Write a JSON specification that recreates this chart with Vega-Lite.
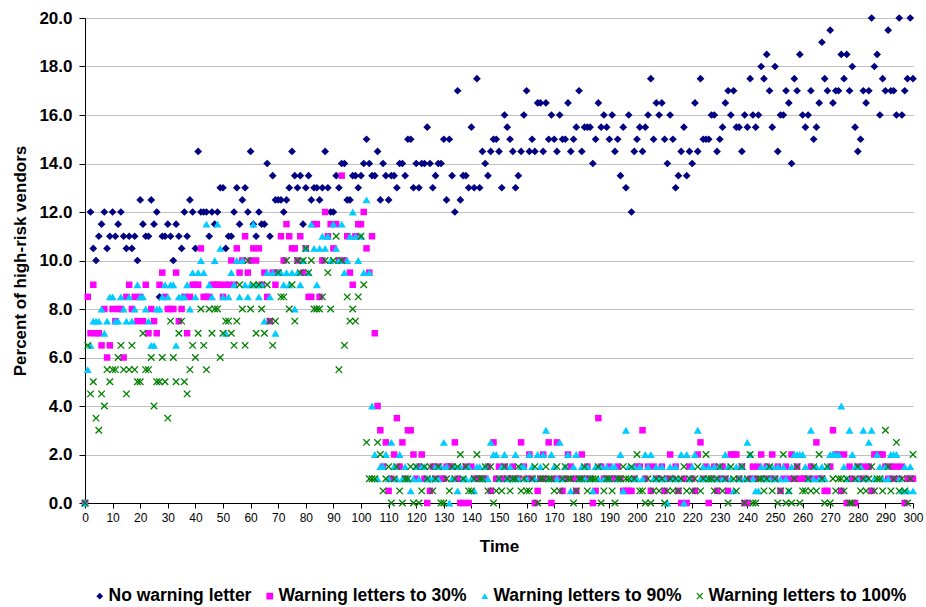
{
"$schema":"https://vega.github.io/schema/vega-lite/v6.json",
"width":828,"height":485,
"autosize":{"type":"none"},
"padding":{"left":85,"top":18,"right":13,"bottom":104},
"background":"white",
"config":{"view":{"stroke":null},"font":"Liberation Sans"},
"data":{"values":[
{"t":0,"none":0,"w30":0,"w90":0,"w100":0},
{"t":1,"w30":8.5,"w90":5.5,"w100":6.5},
{"t":2,"none":12,"w30":7,"w90":6.5,"w100":4.5},
{"t":3,"none":10.5,"w30":9,"w90":7.5,"w100":5},
{"t":4,"none":10,"w30":7,"w90":7.5,"w100":3.5},
{"t":5,"none":11,"w30":7,"w90":7.5,"w100":3},
{"t":6,"none":11.5,"w30":6.5,"w90":8,"w100":4.5},
{"t":7,"none":12,"w30":8,"w90":7,"w100":4},
{"t":8,"none":10.5,"w30":6,"w90":7.5,"w100":5.5},
{"t":9,"none":11,"w30":6.5,"w90":8.5,"w100":5},
{"t":10,"none":12,"w30":8,"w90":8.5,"w100":5.5},
{"t":11,"none":11,"w30":7.5,"w90":7.5,"w100":5.5},
{"t":12,"none":11.5,"w30":8,"w90":7.5,"w100":6},
{"t":13,"none":12,"w30":8,"w90":8.5,"w100":6.5},
{"t":14,"none":11,"w30":6,"w90":8,"w100":5.5},
{"t":15,"none":10.5,"w30":8.5,"w90":7.5,"w100":4.5},
{"t":16,"none":11,"w30":9,"w90":8.5,"w100":5.5},
{"t":17,"none":10.5,"w30":8,"w90":7.5,"w100":6.5},
{"t":18,"none":11,"w30":8.5,"w90":8,"w100":5.5},
{"t":19,"none":10,"w30":7.5,"w90":9,"w100":5},
{"t":20,"none":12.5,"w30":8.5,"w90":8.5,"w100":5},
{"t":21,"none":11.5,"w30":7.5,"w90":8.5,"w100":7},
{"t":22,"none":11,"w30":9,"w90":8,"w100":5.5},
{"t":23,"none":11,"w30":7,"w90":7.5,"w100":5.5},
{"t":24,"none":12.5,"w30":8,"w90":6.5,"w100":6},
{"t":25,"none":11.5,"w30":7.5,"w90":6.5,"w100":4},
{"t":26,"none":12,"w30":7,"w90":8,"w100":5},
{"t":27,"none":8.5,"w30":9,"w90":8,"w100":5},
{"t":28,"none":11,"w30":9.5,"w90":8.5,"w100":6},
{"t":29,"none":11,"w30":8.5,"w90":9,"w100":5},
{"t":30,"none":11.5,"w30":8,"w90":8.5,"w100":3.5},
{"t":31,"none":11,"w30":8,"w90":9,"w100":7.5},
{"t":32,"none":10,"w30":8,"w90":9,"w100":6},
{"t":33,"none":11.5,"w30":9.5,"w90":6.5,"w100":5},
{"t":34,"none":11,"w30":7.5,"w90":8.5,"w100":7},
{"t":35,"none":10.5,"w30":8,"w90":8.5,"w100":7.5},
{"t":36,"none":12,"w30":8.5,"w90":8.5,"w100":5},
{"t":37,"none":11,"w30":7,"w90":9,"w100":4.5},
{"t":38,"none":12.5,"w30":8.5,"w90":8,"w100":5.5},
{"t":39,"none":12,"w30":9,"w90":9.5,"w100":6.5},
{"t":40,"none":10.5,"w30":9,"w90":8.5,"w100":6},
{"t":41,"none":14.5,"w30":9,"w90":9.5,"w100":7},
{"t":42,"none":12,"w30":10.5,"w90":10,"w100":8},
{"t":43,"none":12,"w30":8.5,"w90":9.5,"w100":6.5},
{"t":44,"none":12,"w30":8.5,"w90":11.5,"w100":5.5},
{"t":45,"none":11,"w30":8.5,"w90":9,"w100":8},
{"t":46,"none":12,"w30":9,"w90":8.5,"w100":7},
{"t":47,"none":11.5,"w30":9,"w90":10,"w100":8},
{"t":48,"none":12,"w30":9,"w90":11.5,"w100":8},
{"t":49,"none":13,"w30":9,"w90":10.5,"w100":6},
{"t":50,"none":13,"w30":8.5,"w90":8.5,"w100":7},
{"t":51,"none":10.5,"w30":9,"w90":7,"w100":7.5},
{"t":52,"none":11,"w30":9,"w90":8.5,"w100":7.5},
{"t":53,"none":11,"w30":10,"w90":9.5,"w100":7},
{"t":54,"none":12,"w30":9,"w90":9,"w100":6.5},
{"t":55,"none":13,"w30":10.5,"w90":10,"w100":7.5},
{"t":56,"none":11.5,"w30":9.5,"w90":8.5,"w100":9},
{"t":57,"none":12.5,"w30":10,"w90":10,"w100":8},
{"t":58,"none":13,"w30":11,"w90":9,"w100":6.5},
{"t":59,"none":12,"w30":9.5,"w90":8.5,"w100":10},
{"t":60,"none":14.5,"w30":10,"w90":9,"w100":8},
{"t":61,"none":11.5,"w30":10.5,"w90":11.5,"w100":9},
{"t":62,"none":11,"w30":10,"w90":9,"w100":7},
{"t":63,"none":12,"w30":10.5,"w90":8.5,"w100":9},
{"t":64,"none":11.5,"w30":9,"w90":9,"w100":8},
{"t":65,"none":11.5,"w30":9.5,"w90":7.5,"w100":7},
{"t":66,"none":14,"w30":8.5,"w90":9.5,"w100":9},
{"t":67,"none":11,"w30":7.5,"w90":8.5,"w100":7.5},
{"t":68,"none":13.5,"w30":9.5,"w90":9.5,"w100":6.5},
{"t":69,"none":12.5,"w30":9,"w90":7,"w100":7.5},
{"t":70,"none":12.5,"w30":9.5,"w90":9.5,"w100":9.5},
{"t":71,"none":12.5,"w30":11,"w90":9.5,"w100":8.5},
{"t":72,"none":12,"w30":10,"w90":9,"w100":8.5},
{"t":73,"none":12.5,"w30":11.5,"w90":9.5,"w100":10},
{"t":74,"none":13,"w30":11,"w90":9,"w100":8},
{"t":75,"none":14.5,"w30":10.5,"w90":9.5,"w100":9},
{"t":76,"none":13.5,"w30":10.5,"w90":8,"w100":7.5},
{"t":77,"none":13,"w30":10,"w90":9.5,"w100":10},
{"t":78,"none":13.5,"w30":11,"w90":9,"w100":9.5},
{"t":79,"none":11.5,"w30":9.5,"w90":10,"w100":10},
{"t":80,"none":13,"w30":10.5,"w90":10.5,"w100":10.5},
{"t":81,"none":13.5,"w30":8.5,"w90":9.5,"w100":9.5},
{"t":82,"none":12.5,"w30":8.5,"w90":11.5,"w100":10},
{"t":83,"none":13,"w30":11.5,"w90":10.5,"w100":8},
{"t":84,"none":13,"w30":11.5,"w90":9,"w100":8},
{"t":85,"none":12.5,"w30":8.5,"w90":10.5,"w100":8},
{"t":86,"none":13,"w30":10,"w90":11,"w100":8.5},
{"t":87,"none":14.5,"w30":12,"w90":10.5,"w100":10},
{"t":88,"none":13,"w30":11,"w90":11,"w100":9.5},
{"t":89,"none":12,"w30":11.5,"w90":10,"w100":8},
{"t":90,"none":12,"w30":10.5,"w90":11.5,"w100":10},
{"t":91,"none":13.5,"w30":11.5,"w90":10.5,"w100":11},
{"t":92,"none":13,"w30":10,"w90":10,"w100":5.5},
{"t":93,"none":14,"w30":13.5,"w90":11.5,"w100":10},
{"t":94,"none":14,"w30":10,"w90":9.5,"w100":6.5},
{"t":95,"none":12.5,"w30":11,"w90":10,"w100":8.5},
{"t":96,"none":12.5,"w30":9.5,"w90":11,"w100":7.5},
{"t":97,"none":13.5,"w30":9,"w90":12,"w100":8},
{"t":98,"none":13.5,"w30":11,"w90":11,"w100":7.5},
{"t":99,"none":13,"w30":11.5,"w90":10,"w100":8.5},
{"t":100,"none":13.5,"w30":11.5,"w90":11,"w100":11},
{"t":101,"none":14,"w30":12,"w90":9.5,"w100":9},
{"t":102,"none":15,"w30":10.5,"w90":12.5,"w100":2.5},
{"t":103,"none":14,"w30":9.5,"w90":9.5,"w100":1},
{"t":104,"none":13.5,"w30":11,"w90":4,"w100":1},
{"t":105,"none":13.5,"w30":7,"w90":2,"w100":1},
{"t":106,"none":14.5,"w30":4,"w90":1,"w100":2.5},
{"t":107,"none":12.5,"w30":3,"w90":1.5,"w100":2},
{"t":108,"none":14,"w30":1.5,"w90":1.5,"w100":0.5},
{"t":109,"none":13.5,"w30":2.5,"w90":2,"w100":1},
{"t":110,"none":12.5,"w30":0.5,"w90":1,"w100":1.5},
{"t":111,"none":13.5,"w30":1,"w90":2.5,"w100":0},
{"t":112,"none":13.5,"w30":2,"w90":1.5,"w100":1},
{"t":113,"none":13,"w30":3.5,"w90":1,"w100":1.5},
{"t":114,"none":14,"w30":1.5,"w90":2,"w100":0.5},
{"t":115,"none":14,"w30":2.5,"w90":1,"w100":0},
{"t":116,"none":13.5,"w30":1,"w90":1.5,"w100":1},
{"t":117,"none":15,"w30":3,"w90":1,"w100":1},
{"t":118,"none":15,"w30":3,"w90":0.5,"w100":1.5},
{"t":119,"none":13,"w30":2,"w90":1,"w100":0},
{"t":120,"none":14,"w30":1,"w90":1.5,"w100":1.5},
{"t":121,"none":13,"w30":1.5,"w90":1,"w100":0},
{"t":122,"none":14,"w30":2,"w90":1.5,"w100":0.5},
{"t":123,"none":14,"w30":1,"w90":1.5,"w100":1.5},
{"t":124,"none":15.5,"w30":0,"w90":1,"w100":1},
{"t":125,"none":14,"w30":0.5,"w90":1,"w100":1.5},
{"t":126,"none":13,"w30":1.5,"w90":1,"w100":0.5},
{"t":127,"none":13.5,"w30":1,"w90":1.5,"w100":1},
{"t":128,"none":14,"w30":1.5,"w90":1,"w100":1.5},
{"t":129,"none":14,"w30":1,"w90":1.5,"w100":0},
{"t":130,"none":15,"w30":1,"w90":2.5,"w100":0},
{"t":131,"none":12.5,"w30":1.5,"w90":1.5,"w100":1},
{"t":132,"none":15,"w30":1.5,"w90":0,"w100":0.5},
{"t":133,"none":13.5,"w30":1.5,"w90":1,"w100":1.5},
{"t":134,"none":12,"w30":2.5,"w90":1.5,"w100":1},
{"t":135,"none":17,"w30":1,"w90":0.5,"w100":1.5},
{"t":136,"none":12.5,"w30":0,"w90":1.5,"w100":2},
{"t":137,"none":13.5,"w30":0,"w90":1,"w100":1},
{"t":138,"none":13.5,"w30":1.5,"w90":1,"w100":1.5},
{"t":139,"none":13,"w30":0,"w90":1.5,"w100":0.5},
{"t":140,"none":15.5,"w30":1.5,"w90":1,"w100":0.5},
{"t":141,"none":13,"w30":1,"w90":0.5,"w100":1},
{"t":142,"none":17.5,"w30":1,"w90":1.5,"w100":2},
{"t":143,"none":13,"w30":1,"w90":1.5,"w100":1},
{"t":144,"none":14.5,"w30":1,"w90":1,"w100":1},
{"t":145,"none":14,"w30":1,"w90":1.5,"w100":1.5},
{"t":146,"none":13.5,"w30":1.5,"w90":1,"w100":0.5},
{"t":147,"none":14.5,"w30":0.5,"w90":2.5,"w100":1.5},
{"t":148,"none":15,"w30":2.5,"w90":2,"w100":0},
{"t":149,"none":15,"w30":1,"w90":2,"w100":0.5},
{"t":150,"none":14.5,"w30":1.5,"w90":1,"w100":1},
{"t":151,"none":13,"w30":1,"w90":1.5,"w100":0.5},
{"t":152,"none":16,"w30":1.5,"w90":2,"w100":1.5},
{"t":153,"none":15.5,"w30":1,"w90":1,"w100":1},
{"t":154,"none":15,"w30":1,"w90":1.5,"w100":0.5},
{"t":155,"none":14.5,"w30":1.5,"w90":1,"w100":1},
{"t":156,"none":13,"w30":1,"w90":2,"w100":1},
{"t":157,"none":13.5,"w30":1,"w90":1,"w100":1.5},
{"t":158,"none":14.5,"w30":2.5,"w90":1.5,"w100":0.5},
{"t":159,"none":16,"w30":1.5,"w90":1.5,"w100":1},
{"t":160,"none":17,"w30":1,"w90":1,"w100":0.5},
{"t":161,"none":14.5,"w30":2,"w90":2,"w100":0.5},
{"t":162,"none":15,"w30":1,"w90":1.5,"w100":1},
{"t":163,"none":14.5,"w30":0,"w90":1,"w100":1.5},
{"t":164,"none":16.5,"w30":0.5,"w90":2,"w100":0},
{"t":165,"none":16.5,"w30":1,"w90":1.5,"w100":1},
{"t":166,"none":14.5,"w30":2,"w90":2,"w100":1},
{"t":167,"none":16.5,"w30":1,"w90":3,"w100":1.5},
{"t":168,"none":15,"w30":2.5,"w90":1,"w100":1},
{"t":169,"none":16,"w30":0,"w90":2,"w100":1},
{"t":170,"none":15,"w30":1,"w90":1.5,"w100":0.5},
{"t":171,"none":14.5,"w30":2.5,"w90":1,"w100":1.5},
{"t":172,"none":16,"w30":1,"w90":2.5,"w100":0.5},
{"t":173,"none":15,"w30":0.5,"w90":1,"w100":1},
{"t":174,"none":15,"w30":1,"w90":1.5,"w100":1.5},
{"t":175,"none":16.5,"w30":2,"w90":2,"w100":1},
{"t":176,"none":14.5,"w30":1.5,"w90":0.5,"w100":1},
{"t":177,"none":15,"w30":1,"w90":1.5,"w100":0},
{"t":178,"none":15.5,"w30":0.5,"w90":2,"w100":0.5},
{"t":179,"none":17,"w30":1,"w90":1,"w100":1},
{"t":180,"none":14.5,"w30":2,"w90":1.5,"w100":1},
{"t":181,"none":15.5,"w30":1,"w90":1,"w100":1.5},
{"t":182,"none":15.5,"w30":1.5,"w90":1.5,"w100":0.5},
{"t":183,"none":15.5,"w30":1,"w90":1,"w100":1},
{"t":184,"none":14,"w30":0,"w90":0.5,"w100":1},
{"t":185,"none":15,"w30":0.5,"w90":1.5,"w100":1},
{"t":186,"none":16.5,"w30":3.5,"w90":1,"w100":1.5},
{"t":187,"none":15.5,"w30":1.5,"w90":1.5,"w100":0},
{"t":188,"none":16,"w30":1,"w90":1,"w100":0.5},
{"t":189,"none":15.5,"w30":1,"w90":1.5,"w100":1},
{"t":190,"none":15,"w30":1.5,"w90":1,"w100":1},
{"t":191,"none":16,"w30":1,"w90":1.5,"w100":0.5},
{"t":192,"none":14.5,"w30":1,"w90":1.5,"w100":0},
{"t":193,"none":15,"w30":1.5,"w90":1,"w100":1},
{"t":194,"none":13.5,"w30":1,"w90":2,"w100":1},
{"t":195,"none":15.5,"w30":0.5,"w90":0.5,"w100":1.5},
{"t":196,"none":13,"w30":0.5,"w90":3,"w100":1},
{"t":197,"none":16,"w30":0.5,"w90":1.5,"w100":1},
{"t":198,"none":12,"w30":0.5,"w90":1,"w100":1.5},
{"t":199,"none":14.5,"w30":1,"w90":1.5,"w100":1},
{"t":200,"none":15,"w30":1.5,"w90":1,"w100":2},
{"t":201,"none":15.5,"w30":1.5,"w90":1.5,"w100":0.5},
{"t":202,"none":14.5,"w30":3,"w90":1,"w100":0.5},
{"t":203,"none":15.5,"w30":1,"w90":2,"w100":0},
{"t":204,"none":16,"w30":1.5,"w90":1.5,"w100":1},
{"t":205,"none":17.5,"w30":0.5,"w90":2,"w100":0},
{"t":206,"none":15,"w30":1.5,"w90":1,"w100":0.5},
{"t":207,"none":16.5,"w30":1,"w90":1.5,"w100":1},
{"t":208,"none":16,"w30":1,"w90":1,"w100":0.5},
{"t":209,"none":16.5,"w30":1.5,"w90":1.5,"w100":1},
{"t":210,"none":15,"w30":0.5,"w90":1,"w100":0},
{"t":211,"none":14,"w30":1,"w90":0,"w100":0.5},
{"t":212,"none":16,"w30":2,"w90":1.5,"w100":1},
{"t":213,"none":15,"w30":1,"w90":1,"w100":0.5},
{"t":214,"none":13,"w30":1.5,"w90":1.5,"w100":1},
{"t":215,"none":13.5,"w30":0.5,"w90":1,"w100":0.5},
{"t":216,"none":14.5,"w30":0,"w90":2,"w100":1},
{"t":217,"none":15.5,"w30":1,"w90":0,"w100":1.5},
{"t":218,"none":13.5,"w30":0,"w90":2,"w100":0.5},
{"t":219,"none":14.5,"w30":1.5,"w90":1,"w100":1},
{"t":220,"none":14,"w30":1,"w90":1.5,"w100":0.5},
{"t":221,"none":16.5,"w30":0.5,"w90":2,"w100":1},
{"t":222,"none":14.5,"w30":2,"w90":3,"w100":1.5},
{"t":223,"none":17.5,"w30":2.5,"w90":1,"w100":0.5},
{"t":224,"none":15,"w30":1,"w90":1.5,"w100":1},
{"t":225,"none":15,"w30":1.5,"w90":1,"w100":2},
{"t":226,"none":15,"w30":0,"w90":1.5,"w100":1},
{"t":227,"none":16,"w30":1,"w90":1,"w100":1},
{"t":228,"none":16,"w30":1.5,"w90":1.5,"w100":0.5},
{"t":229,"none":14.5,"w30":0.5,"w90":1,"w100":1},
{"t":230,"none":15,"w30":1,"w90":1.5,"w100":1.5},
{"t":231,"none":15.5,"w30":1.5,"w90":1,"w100":0.5},
{"t":232,"none":16.5,"w30":1,"w90":2,"w100":1},
{"t":233,"none":17,"w30":0.5,"w90":1.5,"w100":0},
{"t":234,"none":16,"w30":2,"w90":1,"w100":1.5},
{"t":235,"none":17,"w30":2,"w90":0.5,"w100":1},
{"t":236,"none":15.5,"w30":2,"w90":1.5,"w100":0.5},
{"t":237,"none":15.5,"w30":1,"w90":1,"w100":1},
{"t":238,"none":14.5,"w30":1.5,"w90":1.5,"w100":1.5},
{"t":239,"none":16,"w30":0,"w90":1,"w100":0},
{"t":240,"none":15.5,"w30":0,"w90":2.5,"w100":1},
{"t":241,"none":17.5,"w30":1,"w90":2,"w100":2},
{"t":242,"none":16,"w30":1.5,"w90":1,"w100":0},
{"t":243,"none":15.5,"w30":1,"w90":0.5,"w100":0},
{"t":244,"none":16,"w30":1.5,"w90":0.5,"w100":1},
{"t":245,"none":18,"w30":2,"w90":1.5,"w100":1},
{"t":246,"none":17.5,"w30":1,"w90":1,"w100":0.5},
{"t":247,"none":18.5,"w30":1.5,"w90":1.5,"w100":1},
{"t":248,"none":17,"w30":1,"w90":1,"w100":1.5},
{"t":249,"none":15.5,"w30":2,"w90":1.5,"w100":0.5},
{"t":250,"none":18,"w30":1,"w90":1,"w100":1},
{"t":251,"none":14.5,"w30":1.5,"w90":1.5,"w100":0},
{"t":252,"none":16,"w30":0.5,"w90":1,"w100":0.5},
{"t":253,"none":16,"w30":1,"w90":1.5,"w100":2},
{"t":254,"none":17,"w30":1.5,"w90":1,"w100":0},
{"t":255,"none":16.5,"w30":1,"w90":0.5,"w100":0.5},
{"t":256,"none":14,"w30":2,"w90":1.5,"w100":0},
{"t":257,"none":17.5,"w30":1,"w90":2,"w100":1},
{"t":258,"none":17,"w30":1.5,"w90":2,"w100":1.5},
{"t":259,"none":18.5,"w30":1,"w90":2,"w100":0},
{"t":260,"none":16,"w30":1,"w90":2,"w100":0.5},
{"t":261,"none":15.5,"w30":1,"w90":1.5,"w100":0.5},
{"t":262,"none":16,"w30":1,"w90":1,"w100":1},
{"t":263,"none":17,"w30":1.5,"w90":3,"w100":0.5},
{"t":264,"none":15,"w30":1,"w90":1,"w100":1.5},
{"t":265,"none":15.5,"w30":2.5,"w90":1.5,"w100":0.5},
{"t":266,"none":16.5,"w30":1,"w90":1,"w100":2},
{"t":267,"none":19,"w30":1,"w90":1.5,"w100":1},
{"t":268,"none":17.5,"w30":0.5,"w90":1,"w100":0},
{"t":269,"none":17,"w30":0.5,"w90":1.5,"w100":1.5},
{"t":270,"none":19.5,"w30":1.5,"w90":2,"w100":0},
{"t":271,"none":16.5,"w30":3,"w90":2,"w100":1},
{"t":272,"none":17,"w30":2,"w90":2,"w100":0.5},
{"t":273,"none":17,"w30":2,"w90":2,"w100":1},
{"t":274,"none":18.5,"w30":0.5,"w90":4,"w100":1},
{"t":275,"none":17.5,"w30":2,"w90":1.5,"w100":0.5},
{"t":276,"none":18.5,"w30":0,"w90":1,"w100":1},
{"t":277,"none":17,"w30":1.5,"w90":3,"w100":0},
{"t":278,"none":18,"w30":1,"w90":2,"w100":0},
{"t":279,"none":15.5,"w30":0,"w90":1.5,"w100":1},
{"t":280,"none":14.5,"w30":1.5,"w90":1,"w100":1.5},
{"t":281,"none":15,"w30":1,"w90":1.5,"w100":0.5},
{"t":282,"none":17,"w30":1.5,"w90":3,"w100":1},
{"t":283,"none":16.5,"w30":1,"w90":1,"w100":0.5},
{"t":284,"none":17,"w30":1.5,"w90":2.5,"w100":1},
{"t":285,"none":20,"w30":0.5,"w90":3,"w100":1.5},
{"t":286,"none":18,"w30":2,"w90":1,"w100":0.5},
{"t":287,"none":18.5,"w30":2,"w90":2,"w100":1},
{"t":288,"none":16,"w30":2,"w90":1.5,"w100":1},
{"t":289,"none":17.5,"w30":2,"w90":1,"w100":0.5},
{"t":290,"none":17,"w30":1.5,"w90":1.5,"w100":3},
{"t":291,"none":19.5,"w30":1,"w90":1,"w100":1.5},
{"t":292,"none":17,"w30":1.5,"w90":2,"w100":0.5},
{"t":293,"none":17,"w30":1,"w90":2,"w100":1},
{"t":294,"none":16,"w30":1.5,"w90":2,"w100":2.5},
{"t":295,"none":20,"w30":1,"w90":1,"w100":0.5},
{"t":296,"none":16,"w30":1.5,"w90":0.5,"w100":1},
{"t":297,"none":17,"w30":0,"w90":1.5,"w100":0.5},
{"t":298,"none":17.5,"w30":1,"w90":0.5,"w100":0},
{"t":299,"none":20,"w30":1,"w90":1.5,"w100":1},
{"t":300,"none":17.5,"w30":1,"w90":0.5,"w100":2}
]},
"encoding":{
"x":{"field":"t","type":"quantitative","scale":{"domain":[0,300],"nice":false,"zero":false},
 "axis":{"values":[0,10,20,30,40,50,60,70,80,90,100,110,120,130,140,150,160,170,180,190,200,210,220,230,240,250,260,270,280,290,300],
 "grid":false,"title":"Time","titleFont":"Liberation Sans","titleFontSize":17,"titleFontWeight":"bold","titleColor":"#000","titlePadding":15,
 "labelFont":"Liberation Sans","labelFontSize":12,"labelColor":"#000","labelOverlap":false,"labelFlush":false,"labelPadding":4,
 "tickSize":5,"tickColor":"#000","domainColor":"#000"}},
"y":{"field":"value","type":"quantitative","scale":{"domain":[0,20],"nice":false},
 "axis":{"values":[0,2,4,6,8,10,12,14,16,18,20],"format":".1f","grid":true,"gridColor":"#C0C0C0","gridWidth":1,
 "title":"Percent of high-risk vendors","titleFont":"Liberation Sans","titleFontSize":17,"titleFontWeight":"bold","titleColor":"#000","titlePadding":9,
 "labelFont":"Liberation Sans","labelFontSize":17,"labelFontWeight":"bold","labelColor":"#000","labelPadding":7,
 "tickSize":6,"tickColor":"#000","domainColor":"#000"}},
"color":{"field":"series","type":"nominal",
 "scale":{"domain":["none","w30","w90","w100"],"range":["#000080","#FF00FF","#00CCFF","#008000"]},
 "legend":{"orient":"none","legendX":6,"legendY":569,"direction":"horizontal","title":null,"padding":0,
  "labelExpr":"datum.label == 'none' ? 'No warning letter' : datum.label == 'w30' ? 'Warning letters to 30%' : datum.label == 'w90' ? 'Warning letters to 90%' : 'Warning letters to 100%'",
  "labelFont":"Liberation Sans","labelFontSize":17.5,"labelFontWeight":"bold","labelColor":"#000","labelLimit":400,"symbolSize":45,"symbolStrokeWidth":0,"columnPadding":9,"labelOffset":0}},
"shape":{"field":"series","type":"nominal",
 "scale":{"domain":["none","w30","w90","w100"],"range":["diamond","square","triangle-up","M-1,-0.75L-0.75,-1L0,-0.25L0.75,-1L1,-0.75L0.25,0L1,0.75L0.75,1L0,0.25L-0.75,1L-1,0.75L-0.25,0Z"]}}
},
"layer":[
{"transform":[{"fold":["none"],"as":["series","value"]}],"mark":{"type":"point","filled":true,"opacity":1,"size":60,"strokeWidth":0}},
{"transform":[{"fold":["w30"],"as":["series","value"]}],"mark":{"type":"point","filled":true,"opacity":1,"size":42,"strokeWidth":0}},
{"transform":[{"fold":["w90"],"as":["series","value"]}],"mark":{"type":"point","filled":true,"opacity":1,"size":64,"strokeWidth":0}},
{"transform":[{"fold":["w100"],"as":["series","value"]}],"mark":{"type":"point","filled":true,"opacity":1,"size":56,"strokeWidth":0}}
]
}
